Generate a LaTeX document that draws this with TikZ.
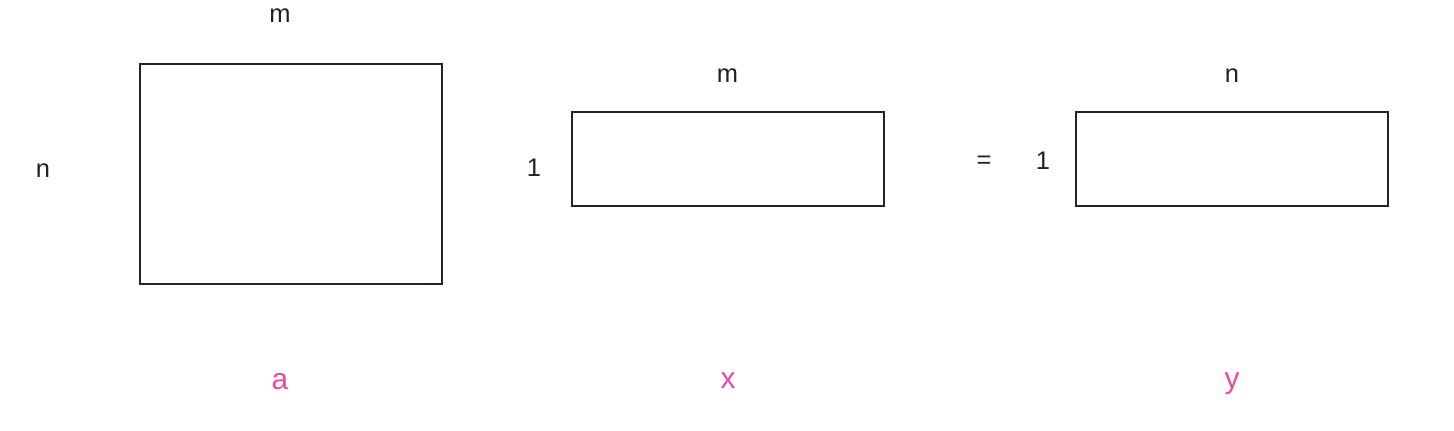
\documentclass[tikz,border=0pt]{standalone}
\usepackage{fontspec}
\setmainfont{Liberation Sans}
\usetikzlibrary{positioning}
\definecolor{edge}{RGB}{33,37,41}
\definecolor{ink}{RGB}{34,34,34}
\definecolor{tag}{RGB}{232,74,160}
\begin{document}
\begin{tikzpicture}[
      mat/.style={rectangle, draw=edge, line width=1.65pt, inner sep=0pt},
      dim/.style={anchor=base, text=ink, font=\fontsize{14.5}{16}\selectfont},
      vname/.style={anchor=base, text=tag, font=\fontsize{17}{19}\selectfont}
    ]
    \useasboundingbox (0,0) rectangle (29.08,8.6);
    % matrix a, vector x, result y
    \node[mat, minimum width=6.04cm, minimum height=4.4cm] (a) at (5.82,5.12) {};
    \node[mat, minimum width=6.24cm, minimum height=1.88cm] (x) at (14.56,5.42) {};
    \node[mat, minimum width=6.24cm, minimum height=1.88cm] (y) at (24.64,5.42) {};
    % sizes
    \node[dim] (am) at (5.6,8.14) {m};
    \node[dim] (an) at (0.86,5.05) {n};
    \node[dim] (xm) at (14.55,6.94) {m};
    \node[dim] (x1) at (10.68,5.07) {1};
    \node[dim] (yn) at (24.64,6.94) {n};
    \node[dim] (y1) at (20.86,5.21) {1};
    \node[text=ink, font=\fontsize{14.5}{16}\selectfont] (eq) at (19.68,5.36) {=};
    % names
    \node[vname] (na) at (5.6,0.82) {a};
    \node[vname] (nx) at (14.56,0.83) {x};
    \node[vname] (ny) at (24.64,0.83) {y};
  \end{tikzpicture}
\end{document}
